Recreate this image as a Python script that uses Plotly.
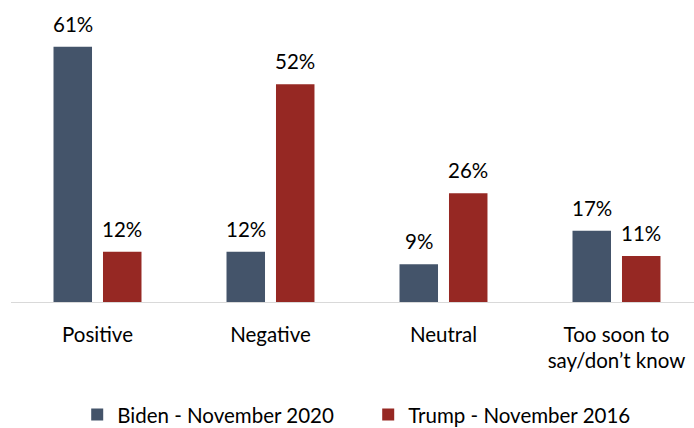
import plotly.graph_objects as go

categories = ["Positive", "Negative", "Neutral", "Too soon to<br>say/don’t know"]
biden = [61, 12, 9, 17]
trump = [12, 52, 26, 11]
series_names = ["Biden - November 2020", "Trump - November 2016"]
colors = ["#44546A", "#962823"]

FONT = "Lato"
FS = 20.5
fig = go.Figure()
offsets = [-24.75, 24.75]
for name, vals, col, off in zip(series_names, [biden, trump], colors, offsets):
    fig.add_trace(go.Bar(
        x=categories, y=vals, name=name, marker_color=col,
        marker_line_width=0,
    ))
    for c, v in zip(categories, vals):
        fig.add_annotation(x=c, y=v, text=f"{v}%", showarrow=False,
                           xshift=off, yanchor="bottom", yshift=9,
                           font=dict(family=FONT, size=FS, color="#000000"))

fig.update_layout(
    width=694, height=428,
    margin=dict(l=11, r=0, t=9, b=126),
    paper_bgcolor="white", plot_bgcolor="white",
    barmode="group", bargap=0.428, bargroupgap=0.222,
    font=dict(family=FONT, size=FS, color="#000000"),
    showlegend=True,
    legend=dict(orientation="h", x=0.523, xanchor="center",
                yref="container", y=0.031, yanchor="middle",
                font=dict(family=FONT, size=FS, color="#000000"),
                itemwidth=30, entrywidth=246, traceorder="normal"),
    xaxis=dict(range=[-0.5, 3.448], showline=True, linecolor="#D9D9D9", linewidth=1,
               ticks="", showgrid=False, tickfont=dict(family=FONT, size=FS),
               ticklabelstandoff=14),
    yaxis=dict(range=[0, 70], visible=False, showgrid=False),
)
fig.write_html("out.html")
